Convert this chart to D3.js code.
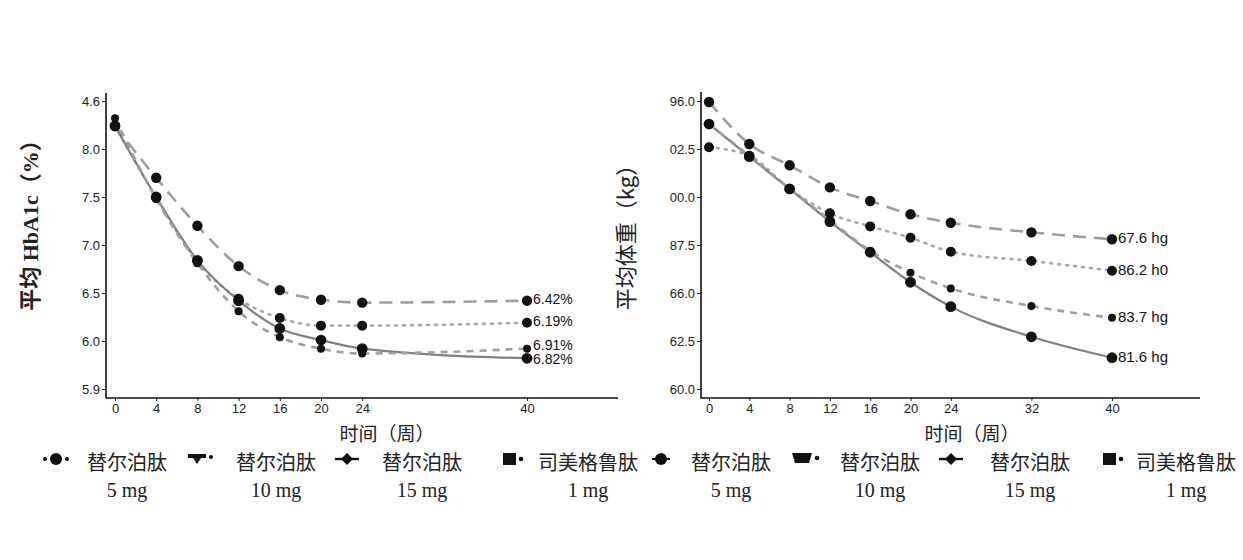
<!DOCTYPE html>
<html><head><meta charset="utf-8">
<script src="https://cdn.jsdelivr.net/npm/d3@7"></script>
<style>
html,body{margin:0;padding:0;background:#fff;}
svg{display:block;}
</style></head>
<body>
<svg id="chart" width="1243" height="560"></svg>
<script>
// ---------- data ----------
const hbWeeks = [0, 4, 8, 12, 16, 20, 24, 40];
const hbLongDash  = [8.24, 7.70, 7.20, 6.78, 6.53, 6.43, 6.40, 6.42];
const hbDotted    = [8.24, 7.49, 6.83, 6.44, 6.24, 6.16, 6.16, 6.19];
const hbSolid     = [8.24, 7.50, 6.84, 6.42, 6.13, 6.01, 5.92, 5.82];
const hbShortDash = [8.32, 7.48, 6.81, 6.31, 6.04, 5.92, 5.87, 5.92];
const hbEndLabels = ["6.42%", "6.19%", "6.82%", "6.91%"];
const hbTickVals  = [5.5, 6.0, 6.5, 7.0, 7.5, 8.0, 8.5];
const hbTickLabels = ["5.9", "6.0", "6.5", "7.0", "7.5", "8.0", "4.6"];

const wtWeeks = [0, 4, 8, 12, 16, 20, 24, 32, 40];
const wtLongDash  = [94.95, 92.76, 91.65, 90.50, 89.79, 89.10, 88.66, 88.16, 87.80];
const wtDotted    = [92.59, 92.15, 90.42, 89.15, 88.47, 87.88, 87.15, 86.67, 86.16];
const wtSolid     = [93.80, 92.10, 90.42, 88.72, 87.12, 85.56, 84.29, 82.72, 81.63];
const wtShortDash = [93.80, 92.15, 90.45, 88.80, 87.20, 86.06, 85.24, 84.32, 83.71];
const wtEndLabels = ["67.6 hg", "86.2 h0", "81.6 hg", "83.7 hg"];
const wtTickVals  = [80, 82.5, 85, 87.5, 90, 92.5, 95];
const wtTickLabels = ["60.0", "62.5", "66.0", "87.5", "00.0", "02.5", "96.0"];

const legendNames = ["替尔泊肽", "替尔泊肽", "替尔泊肽", "司美格鲁肽"];
const legendDoses = ["5 mg", "10 mg", "15 mg", "1 mg"];

// ---------- styles ----------
const styles = [
  {dash: "13,8", color: "#9e9e9e", width: 2.6, r: 5.2},   // long dash
  {dash: "2,6",  color: "#a8a8a8", width: 2.6, r: 5.0},   // dotted
  {dash: null,   color: "#808080", width: 2.2, r: 5.4},   // solid
  {dash: "7,6",  color: "#a0a0a0", width: 2.6, r: 4.0}    // short dash
];

const svg = d3.select("#chart");
const sansFont = "'Liberation Sans', Arial, sans-serif";
const cjkFont = "'Noto Sans CJK SC', sans-serif";

function drawPanel(cfg) {
  const x = d3.scaleLinear().domain([0, 40]).range(cfg.xRange);
  const y = d3.scaleLinear().domain(cfg.yDomain).range([389, 101]);
  const g = svg.append("g");

  // axes
  const yAxis = d3.axisLeft(y).tickValues(cfg.tickVals)
    .tickFormat((d, i) => cfg.tickLabels[i]).tickSize(4).tickSizeOuter(0).tickPadding(2);
  const ya = g.append("g").attr("transform", `translate(${cfg.axisX},0)`).call(yAxis);
  ya.select(".domain").remove();
  ya.selectAll("text").attr("font-family", sansFont).attr("font-size", 13).attr("fill", "#222");
  ya.selectAll("line").attr("stroke", "#222");

  const xAxis = d3.axisBottom(x).tickValues(cfg.weeks).tickSize(3).tickSizeOuter(0).tickPadding(3);
  const xa = g.append("g").attr("transform", `translate(0,398)`).call(xAxis);
  xa.select(".domain").remove();
  xa.selectAll("text").attr("font-family", sansFont).attr("font-size", 13).attr("fill", "#222");
  xa.selectAll("line").attr("stroke", "#222");

  g.append("line").attr("x1", cfg.axisX).attr("x2", cfg.axisX).attr("y1", cfg.axisTop).attr("y2", 398.5)
    .attr("stroke", "#111").attr("stroke-width", 1.6);
  g.append("line").attr("x1", cfg.axisX).attr("x2", cfg.axisEnd).attr("y1", 398).attr("y2", 398)
    .attr("stroke", "#111").attr("stroke-width", 1.6);

  const line = d3.line().x(d => x(d[0])).y(d => y(d[1])).curve(d3.curveMonotoneX);

  cfg.series.forEach((vals, si) => {
    const st = styles[si];
    const pts = cfg.weeks.map((w, i) => [w, vals[i]]);
    g.append("path").attr("d", line(pts)).attr("fill", "none")
      .attr("stroke", st.color).attr("stroke-width", st.width)
      .attr("stroke-dasharray", st.dash).attr("stroke-linecap", si === 1 ? "round" : "butt");
  });
  cfg.series.forEach((vals, si) => {
    const st = styles[si];
    g.selectAll(null).data(cfg.weeks.map((w, i) => [w, vals[i]])).enter()
      .append("circle").attr("cx", d => x(d[0])).attr("cy", d => y(d[1]))
      .attr("r", st.r).attr("fill", "#111");
  });
  // end labels
  cfg.series.forEach((vals, si) => {
    const v = vals[vals.length - 1];
    g.append("text").attr("x", x(40) + cfg.labelDx).attr("y", y(v) + cfg.labelDy[si])
      .attr("dominant-baseline", "middle")
      .attr("font-family", sansFont).attr("font-size", cfg.labelSize).attr("fill", "#111")
      .text(cfg.endLabels[si]);
  });

  // axis titles
  g.append("text").attr("x", cfg.xTitleX).attr("y", 436).attr("text-anchor", "middle")
    .attr("dominant-baseline", "middle").attr("font-family", cjkFont).attr("font-size", 19)
    .attr("fill", "#222").text("时间（周）");
  g.append("text").attr("transform", `translate(${cfg.yTitleX},${cfg.yTitleY}) rotate(-90)`)
    .attr("text-anchor", "middle").attr("dominant-baseline", "middle")
    .attr("font-family", cfg.yTitleFont).attr("font-weight", cfg.yTitleWeight)
    .attr("font-size", cfg.yTitleSize).attr("fill", "#222").text(cfg.yTitle);
}

drawPanel({
  weeks: hbWeeks, series: [hbLongDash, hbDotted, hbSolid, hbShortDash],
  endLabels: hbEndLabels, labelDx: 6, labelDy: [0, 0, 2, -2], labelSize: 14,
  tickVals: hbTickVals, tickLabels: hbTickLabels, yDomain: [5.5, 8.5],
  xRange: [115, 527], axisX: 106, axisTop: 93, axisEnd: 618,
  xTitleX: 387, yTitleX: 33, yTitleY: 220, yTitle: "平均 HbA1c（%）",
  yTitleFont: "'Liberation Serif', 'Noto Sans CJK SC', serif", yTitleWeight: "bold", yTitleSize: 22
});
drawPanel({
  weeks: wtWeeks, series: [wtLongDash, wtDotted, wtSolid, wtShortDash],
  endLabels: wtEndLabels, labelDx: 6, labelDy: [0, 0, 0, 0], labelSize: 15,
  tickVals: wtTickVals, tickLabels: wtTickLabels, yDomain: [80, 95],
  xRange: [709, 1112], axisX: 701, axisTop: 92, axisEnd: 1200,
  xTitleX: 972, yTitleX: 628, yTitleY: 232, yTitle: "平均体重（kg）",
  yTitleFont: cjkFont, yTitleWeight: "normal", yTitleSize: 22
});

// ---------- legends ----------
function legendSymbol(g, type, cx, cy) {
  const s = g.append("g").attr("fill", "#111");
  if (type === "dot3") {
    s.append("circle").attr("cx", cx - 11).attr("cy", cy).attr("r", 2);
    s.append("circle").attr("cx", cx).attr("cy", cy).attr("r", 6);
    s.append("circle").attr("cx", cx + 11).attr("cy", cy).attr("r", 2);
  } else if (type === "dot") {
    s.append("rect").attr("x", cx - 9).attr("y", cy - 1).attr("width", 18).attr("height", 2);
    s.append("circle").attr("cx", cx).attr("cy", cy).attr("r", 6);
  } else if (type === "tri") {
    s.append("path").attr("d", `M${cx-12},${cy-5} L${cx+6},${cy-5} L${cx+6},${cy-1} L${cx+1},${cy-1} L${cx-3},${cy+5} L${cx-7},${cy-1} L${cx-12},${cy-1} Z`);
    s.append("circle").attr("cx", cx + 11).attr("cy", cy - 2).attr("r", 2);
  } else if (type === "trap") {
    s.append("path").attr("d", `M${cx-14},${cy-6} L${cx+6},${cy-6} L${cx+3},${cy+4} L${cx-11},${cy+4} Z`);
    s.append("circle").attr("cx", cx + 11).attr("cy", cy - 1).attr("r", 2.3);
  } else if (type === "diamond") {
    s.append("rect").attr("x", cx - 12).attr("y", cy - 1.2).attr("width", 24).attr("height", 2.4);
    s.append("path").attr("d", `M${cx},${cy-6} L${cx+6},${cy} L${cx},${cy+6} L${cx-6},${cy} Z`);
  } else if (type === "square") {
    s.append("rect").attr("x", cx - 9).attr("y", cy - 6).attr("width", 13).attr("height", 12);
    s.append("circle").attr("cx", cx + 9).attr("cy", cy).attr("r", 2.3);
  }
}
function drawLegend(symCenters, textCenters, types) {
  const g = svg.append("g");
  legendNames.forEach((name, i) => {
    legendSymbol(g, types[i], symCenters[i], 459);
    g.append("text").attr("x", textCenters[i]).attr("y", 465).attr("text-anchor", "middle")
      .attr("dominant-baseline", "middle").attr("font-family", cjkFont).attr("font-size", 20)
      .attr("fill", "#222").text(name);
    g.append("text").attr("x", textCenters[i]).attr("y", 492).attr("text-anchor", "middle")
      .attr("dominant-baseline", "middle").attr("font-family", "'Liberation Serif', serif").attr("font-size", 20)
      .attr("fill", "#222").text(legendDoses[i]);
  });
}
drawLegend([56, 200, 347, 512], [127, 276, 422, 588], ["dot3", "tri", "diamond", "square"]);
drawLegend([661, 806, 951, 1112], [731, 880, 1030, 1186], ["dot", "trap", "diamond", "square"]);
</script>
</body></html>
